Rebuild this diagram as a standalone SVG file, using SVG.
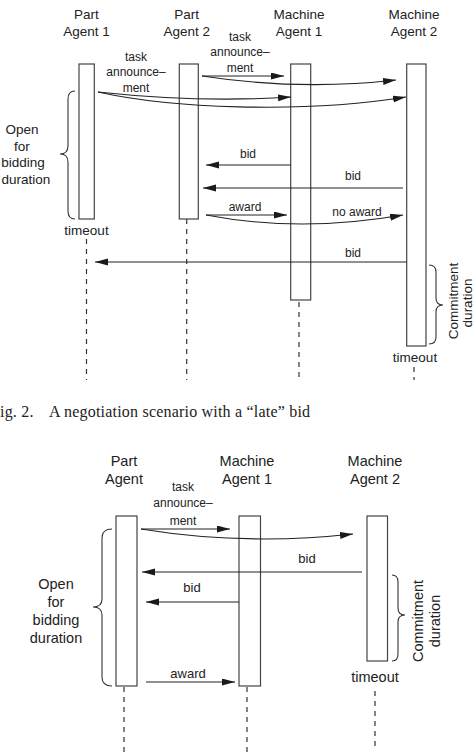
<svg xmlns="http://www.w3.org/2000/svg" width="475" height="755" viewBox="0 0 475 755">
<defs>
<marker id="ah" markerWidth="14" markerHeight="8" refX="13" refY="3.5" orient="auto" markerUnits="userSpaceOnUse">
<path d="M0,0 L13,3.5 L0,7 Z" fill="#1a1a1a"/>
</marker>
<style>
.t{font-family:"Liberation Sans",Arial,sans-serif;fill:#222;text-anchor:middle}
.h1{font-size:13.5px}
.h2{font-size:14.5px}
.l1{font-size:12px}
.l2{font-size:13px}
.bar{fill:#fff;stroke:#444;stroke-width:1.2}
.life{stroke:#333;stroke-width:1.2;stroke-dasharray:5 5;fill:none}
.msg{stroke:#222;stroke-width:1.1;fill:none;marker-end:url(#ah)}
.brace{stroke:#333;stroke-width:1.1;fill:none}
.cap{font-family:"Liberation Serif","Times New Roman",serif;font-size:16px;fill:#222;letter-spacing:0.2px}
</style>
</defs>
<rect width="475" height="755" fill="#fff"/>

<!-- Top diagram -->
<g id="part-agent-1">
<text class="t h1" x="86.5" y="19">Part</text>
<text class="t h1" x="86.5" y="36">Agent 1</text>
<line class="life" x1="86.5" y1="239" x2="86.5" y2="380"/>
<rect class="bar" x="79" y="64" width="15.3" height="155"/>
<text class="t h1" x="86.5" y="235">timeout</text>
</g>
<g id="part-agent-2">
<text class="t h1" x="186.7" y="19">Part</text>
<text class="t h1" x="186.7" y="36">Agent 2</text>
<line class="life" x1="186.7" y1="219" x2="186.7" y2="380"/>
<rect class="bar" x="179.3" y="64" width="19" height="155"/>
</g>
<g id="machine-agent-1">
<text class="t h1" x="299" y="19">Machine</text>
<text class="t h1" x="299" y="36">Agent 1</text>
<line class="life" x1="299" y1="302" x2="299" y2="380"/>
<rect class="bar" x="290.7" y="64" width="20" height="236"/>
</g>
<g id="machine-agent-2">
<text class="t h1" x="414" y="19">Machine</text>
<text class="t h1" x="414" y="36">Agent 2</text>
<line class="life" x1="414" y1="367" x2="414" y2="380"/>
<rect class="bar" x="406.7" y="64" width="19.3" height="282"/>
<text class="t h1" x="415" y="362">timeout</text>
</g>

<g id="connectors-top">
<path class="msg" d="M202,76 L284,76"/>
<path class="msg" d="M202,76 Q300,91 396,80"/>
<path class="msg" d="M98,92 Q200,103 291,97"/>
<path class="msg" d="M98,92 C170,108 300,114 406,97"/>
<path class="msg" d="M291,165 L206,165"/>
<path class="msg" d="M403,188 L203,188"/>
<path class="msg" d="M206,215 L287,215"/>
<path class="msg" d="M206,215 Q300,233 403,215"/>
<path class="msg" d="M406.7,262 L95,262"/>
</g>

<g id="labels-top">
<text class="t l1" x="136" y="61">task</text>
<text class="t l1" x="136" y="76">announce–</text>
<text class="t l1" x="136" y="92">ment</text>
<text class="t l1" x="240" y="41">task</text>
<text class="t l1" x="240" y="56">announce–</text>
<text class="t l1" x="240" y="72">ment</text>
<text class="t l1" x="248" y="158">bid</text>
<text class="t l1" x="353" y="180">bid</text>
<text class="t l1" x="245" y="211">award</text>
<text class="t l1" x="357" y="216">no award</text>
<text class="t l1" x="353" y="257">bid</text>
</g>

<g id="open-bidding-top">
<path class="brace" d="M75,91 Q68,91 68,99 L68,146 Q68,154 60,154 Q68,154 68,162 L68,211 Q68,219 75,219"/>
<text class="t h1" x="22" y="134">Open</text>
<text class="t h1" x="22" y="151">for</text>
<text class="t h1" x="23" y="167">bidding</text>
<text class="t h1" x="26" y="184">duration</text>
</g>
<g id="commitment-top">
<path class="brace" d="M429,265 Q436,265 436,272 L436,298 Q436,305 443,305 Q436,305 436,312 L436,337 Q436,344 429,344"/>
<text class="t h1" transform="translate(458,301) rotate(-90)">Commitment</text>
<text class="t h1" transform="translate(471.5,303) rotate(-90)">duration</text>
</g>

<text class="cap" x="0" y="417">ig. 2.<tspan x="49">A negotiation scenario with a “late” bid</tspan></text>

<!-- Bottom diagram -->
<g id="part-agent">
<text class="t h2" x="124" y="466">Part</text>
<text class="t h2" x="124" y="484">Agent</text>
<line class="life" x1="124" y1="687" x2="124" y2="755"/>
<rect class="bar" x="116" y="516" width="21" height="170"/>
</g>
<g id="machine-agent-1b">
<text class="t h2" x="247" y="466">Machine</text>
<text class="t h2" x="247" y="484">Agent 1</text>
<line class="life" x1="247" y1="687" x2="247" y2="755"/>
<rect class="bar" x="239" y="516" width="21.5" height="170"/>
</g>
<g id="machine-agent-2b">
<text class="t h2" x="375" y="466">Machine</text>
<text class="t h2" x="375" y="484">Agent 2</text>
<line class="life" x1="375" y1="691" x2="375" y2="750"/>
<rect class="bar" x="367" y="516" width="20.5" height="145"/>
<text class="t h2" x="375" y="682">timeout</text>
</g>

<g id="connectors-bottom">
<path class="msg" d="M141,529 L230,529"/>
<path class="msg" d="M141,529 Q245,546 353,534"/>
<path class="msg" d="M362,572 L142,572"/>
<path class="msg" d="M239,602 L146,602"/>
<path class="msg" d="M146,682 L235,682"/>
</g>

<g id="labels-bottom">
<text class="t l1" x="183" y="491">task</text>
<text class="t l1" x="183" y="507">announce–</text>
<text class="t l1" x="183" y="525">ment</text>
<text class="t l2" x="307" y="563">bid</text>
<text class="t l2" x="192" y="592">bid</text>
<text class="t l2" x="188" y="678">award</text>
</g>

<g id="open-bidding-bottom">
<path class="brace" d="M112,529 Q102,529 102,538 L102,599 Q102,607 93,607 Q102,607 102,615 L102,677 Q102,686 112,686"/>
<text class="t h2" x="56" y="589">Open</text>
<text class="t h2" x="56" y="607">for</text>
<text class="t h2" x="56" y="625">bidding</text>
<text class="t h2" x="56" y="643">duration</text>
</g>
<g id="commitment-bottom">
<path class="brace" d="M392,575 Q398,575 398,582 L398,608 Q398,615 405,615 Q398,615 398,622 L398,654 Q398,661 392,661"/>
<text class="t h2" transform="translate(423,621) rotate(-90)">Commitment</text>
<text class="t h2" transform="translate(440,621) rotate(-90)">duration</text>
</g>
</svg>
